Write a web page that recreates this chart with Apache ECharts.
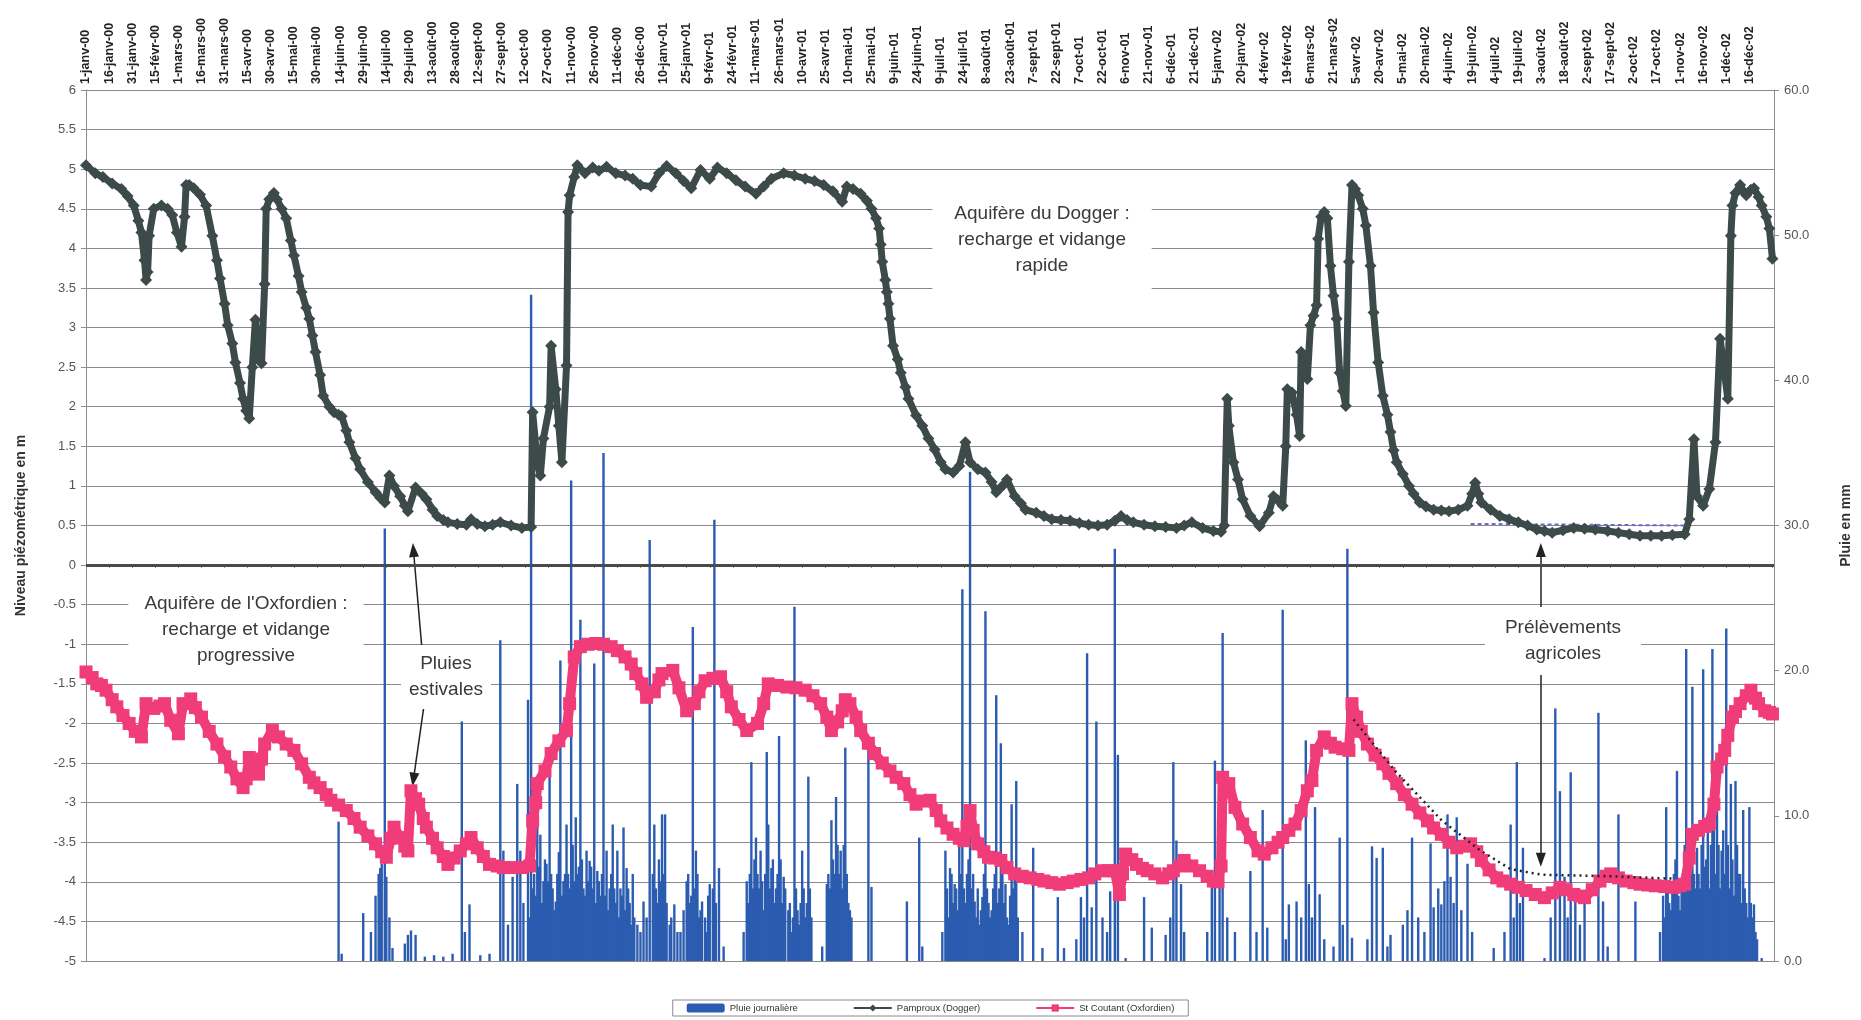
<!DOCTYPE html>
<html>
<head>
<meta charset="utf-8">
<title>Niveaux piézométriques Dogger / Oxfordien</title>
<script src="https://cdn.jsdelivr.net/npm/echarts@6/dist/echarts.min.js"></script>
<style>
  html, body { margin: 0; padding: 0; background: #fff; }
  #chart { width: 1861px; height: 1020px; }
</style>
</head>
<body>
<div id="chart"></div>
<script>
// axe des dates : un repère tous les 15 jours depuis le 1-janv-00 (jour 0)
var tickLabels = [
  '1-janv-00','16-janv-00','31-janv-00','15-févr-00','1-mars-00','16-mars-00','31-mars-00','15-avr-00','30-avr-00',
  '15-mai-00','30-mai-00','14-juin-00','29-juin-00','14-juil-00','29-juil-00','13-août-00','28-août-00','12-sept-00',
  '27-sept-00','12-oct-00','27-oct-00','11-nov-00','26-nov-00','11-déc-00','26-déc-00',
  '10-janv-01','25-janv-01','9-févr-01','24-févr-01','11-mars-01','26-mars-01','10-avr-01','25-avr-01','10-mai-01',
  '25-mai-01','9-juin-01','24-juin-01','9-juil-01','24-juil-01','8-août-01','23-août-01','7-sept-01','22-sept-01',
  '7-oct-01','22-oct-01','6-nov-01','21-nov-01','6-déc-01','21-déc-01',
  '5-janv-02','20-janv-02','4-févr-02','19-févr-02','6-mars-02','21-mars-02','5-avr-02','20-avr-02','5-mai-02',
  '20-mai-02','4-juin-02','19-juin-02','4-juil-02','19-juil-02','3-août-02','18-août-02','2-sept-02','17-sept-02',
  '2-oct-02','17-oct-02','1-nov-02','16-nov-02','1-déc-02','16-déc-02'
];
var nbJours = 1096;

// Pamproux (Dogger) : [jour, niveau en m]
var dogger = [
  [0,5.05],[6,4.95],[11,4.9],[17,4.82],[23,4.75],[27,4.66],[31,4.54],[34,4.35],[36,4.2],[38,3.85],[39,3.6],[40,3.7],
  [41,4.16],[44,4.5],[49,4.54],[53,4.5],[56,4.42],[59,4.2],[62,4.02],[64,4.4],[65,4.8],[67,4.8],[70,4.76],[74,4.68],
  [78,4.54],[82,4.16],[85,3.85],[87,3.62],[90,3.3],[92,3.03],[95,2.8],[97,2.56],[100,2.3],[102,2.1],[104,1.95],
  [106,1.85],[108,2.5],[110,3.1],[112,2.6],[114,2.55],[116,3.55],[117,4.5],[119,4.62],[122,4.7],[124,4.62],[127,4.5],
  [130,4.38],[133,4.1],[135,3.91],[138,3.65],[140,3.45],[143,3.25],[145,3.11],[147,2.9],[149,2.69],[152,2.4],[154,2.14],
  [158,2.0],[161,1.93],[164,1.9],[166,1.88],[169,1.7],[171,1.55],[175,1.35],[178,1.21],[183,1.05],[188,0.92],[191,0.85],
  [194,0.79],[197,1.13],[200,1.0],[204,0.87],[207,0.75],[209,0.68],[214,0.98],[218,0.9],[221,0.83],[225,0.7],[228,0.62],
  [232,0.57],[235,0.54],[241,0.52],[247,0.51],[250,0.58],[254,0.52],[259,0.49],[264,0.51],[269,0.54],[276,0.5],
  [283,0.47],[289,0.48],[290,1.93],[293,1.3],[295,1.13],[297,1.6],[301,2.0],[302,2.77],[305,2.22],[307,1.76],[309,1.3],
  [312,2.52],[313,4.46],[314,4.67],[317,4.9],[319,5.05],[324,4.95],[329,5.02],[333,4.98],[338,5.03],[344,4.95],
  [350,4.92],[355,4.88],[360,4.8],[367,4.78],[372,4.95],[377,5.04],[383,4.95],[388,4.85],[393,4.76],[399,4.99],
  [405,4.88],[410,5.02],[416,4.95],[422,4.86],[428,4.78],[435,4.69],[440,4.78],[445,4.88],[453,4.95],[460,4.92],
  [467,4.88],[473,4.85],[479,4.8],[485,4.72],[491,4.59],[494,4.78],[498,4.75],[503,4.69],[507,4.6],[510,4.5],[513,4.38],
  [515,4.25],[516,4.05],[517,3.83],[519,3.6],[520,3.45],[521,3.3],[522,3.11],[524,2.77],[527,2.6],[529,2.43],[532,2.25],
  [534,2.1],[539,1.89],[543,1.76],[547,1.6],[551,1.46],[555,1.3],[558,1.21],[563,1.17],[567,1.25],[571,1.55],[574,1.3],
  [579,1.21],[584,1.17],[588,1.05],[591,0.92],[595,1.0],[598,1.08],[603,0.87],[607,0.78],[610,0.7],[617,0.66],
  [622,0.62],[627,0.58],[633,0.57],[639,0.56],[645,0.53],[651,0.51],[657,0.5],[663,0.51],[668,0.56],[672,0.62],
  [676,0.57],[680,0.54],[687,0.51],[694,0.49],[701,0.48],[708,0.47],[713,0.5],[718,0.54],[725,0.47],[732,0.43],
  [737,0.42],[739,0.5],[741,2.1],[742,1.76],[745,1.3],[748,1.08],[751,0.83],[756,0.62],[762,0.49],[768,0.66],[771,0.87],
  [774,0.82],[777,0.75],[779,1.5],[780,2.22],[783,2.18],[786,1.9],[788,1.63],[789,2.69],[791,2.5],[793,2.35],[795,3.03],
  [797,3.15],[799,3.28],[800,4.12],[802,4.4],[804,4.46],[806,4.38],[808,3.78],[810,3.4],[812,3.11],[814,2.43],[816,2.2],
  [818,2.01],[820,3.83],[822,4.8],[824,4.75],[826,4.67],[829,4.5],[831,4.29],[834,3.78],[836,3.19],[839,2.56],[842,2.14],
  [845,1.9],[847,1.68],[849,1.45],[851,1.3],[855,1.15],[859,1.0],[862,0.9],[866,0.79],[870,0.74],[875,0.7],[880,0.69],
  [885,0.68],[891,0.7],[897,0.75],[900,0.9],[902,1.04],[904,0.9],[906,0.79],[912,0.7],[918,0.62],[924,0.58],[930,0.54],
  [936,0.5],[942,0.45],[947,0.43],[952,0.41],[959,0.44],[966,0.47],[973,0.46],[980,0.45],[988,0.43],[995,0.41],
  [1002,0.39],[1009,0.37],[1016,0.37],[1023,0.37],[1030,0.38],[1038,0.39],[1041,0.58],[1044,1.59],[1046,0.87],
  [1050,0.75],[1054,0.96],[1058,1.55],[1061,2.86],[1063,2.56],[1066,2.1],[1068,4.16],[1069,4.54],[1071,4.7],[1074,4.8],
  [1076,4.72],[1078,4.67],[1081,4.74],[1083,4.76],[1086,4.65],[1088,4.54],[1091,4.4],[1093,4.25],[1095,3.87]
];

// St Coutant (Oxfordien) : [jour, niveau en m]
var oxfordien = [
  [0,-1.35],[4,-1.42],[7,-1.5],[10,-1.52],[13,-1.58],[17,-1.7],[20,-1.79],[24,-1.9],[28,-2.0],[32,-2.1],[36,-2.17],
  [39,-1.75],[44,-1.81],[48,-1.78],[51,-1.75],[55,-1.96],[60,-2.13],[63,-1.75],[68,-1.69],[71,-1.8],[75,-1.92],
  [80,-2.1],[85,-2.26],[90,-2.42],[94,-2.55],[98,-2.7],[102,-2.81],[104,-2.7],[106,-2.43],[109,-2.55],[112,-2.64],
  [114,-2.45],[116,-2.26],[121,-2.09],[125,-2.17],[130,-2.26],[135,-2.34],[140,-2.51],[145,-2.68],[148,-2.75],
  [152,-2.81],[156,-2.9],[159,-2.97],[164,-3.03],[169,-3.1],[174,-3.2],[178,-3.31],[183,-3.42],[188,-3.52],[192,-3.62],
  [195,-3.69],[198,-3.45],[200,-3.31],[204,-3.44],[207,-3.55],[209,-3.61],[211,-2.85],[214,-2.95],[216,-3.02],
  [219,-3.2],[221,-3.31],[225,-3.45],[228,-3.57],[232,-3.68],[235,-3.78],[239,-3.7],[243,-3.61],[247,-3.52],[250,-3.44],
  [254,-3.57],[258,-3.68],[262,-3.78],[267,-3.8],[271,-3.82],[277,-3.82],[283,-3.82],[288,-3.8],[290,-3.23],[292,-3.0],
  [293,-2.76],[298,-2.6],[302,-2.38],[307,-2.22],[312,-2.09],[314,-1.75],[317,-1.16],[321,-1.03],[326,-1.0],[331,-0.99],
  [336,-1.0],[341,-1.03],[345,-1.08],[350,-1.16],[354,-1.25],[357,-1.37],[361,-1.5],[364,-1.67],[369,-1.6],[372,-1.45],
  [374,-1.37],[381,-1.33],[385,-1.55],[390,-1.84],[395,-1.75],[398,-1.6],[402,-1.46],[407,-1.43],[412,-1.41],
  [416,-1.6],[419,-1.79],[424,-1.95],[429,-2.09],[436,-2.0],[440,-1.75],[443,-1.5],[449,-1.52],[455,-1.54],[461,-1.55],
  [467,-1.58],[472,-1.65],[477,-1.75],[481,-1.92],[484,-2.09],[488,-1.98],[491,-1.84],[493,-1.7],[496,-1.75],
  [500,-1.92],[503,-2.09],[508,-2.25],[512,-2.38],[517,-2.5],[522,-2.6],[526,-2.68],[531,-2.76],[535,-2.9],[539,-3.02],
  [543,-2.98],[548,-2.97],[552,-3.1],[555,-3.23],[559,-3.32],[563,-3.4],[567,-3.45],[570,-3.48],[572,-3.3],[574,-3.1],
  [576,-3.35],[579,-3.52],[583,-3.62],[586,-3.69],[590,-3.7],[594,-3.73],[598,-3.82],[603,-3.9],[608,-3.93],[613,-3.95],
  [618,-3.97],[622,-3.99],[627,-4.01],[632,-4.03],[637,-4.01],[641,-3.99],[646,-3.97],[651,-3.95],[655,-3.9],
  [660,-3.86],[664,-3.86],[668,-3.86],[671,-4.16],[673,-3.9],[675,-3.65],[679,-3.72],[682,-3.78],[686,-3.83],
  [689,-3.86],[694,-3.9],[699,-3.95],[703,-3.9],[706,-3.86],[710,-3.8],[713,-3.73],[718,-3.8],[723,-3.86],[728,-3.93],
  [732,-3.99],[735,-4.0],[737,-3.8],[738,-2.68],[742,-2.76],[746,-3.06],[751,-3.27],[756,-3.44],[761,-3.61],
  [765,-3.65],[770,-3.57],[774,-3.5],[777,-3.44],[781,-3.35],[785,-3.27],[789,-3.1],[793,-2.85],[796,-2.72],
  [799,-2.34],[804,-2.17],[808,-2.25],[811,-2.3],[816,-2.32],[820,-2.34],[822,-1.75],[825,-1.92],[828,-2.1],
  [832,-2.26],[837,-2.4],[842,-2.51],[846,-2.63],[851,-2.76],[856,-2.9],[861,-3.02],[866,-3.13],[871,-3.23],
  [875,-3.32],[880,-3.4],[885,-3.5],[890,-3.57],[895,-3.55],[899,-3.52],[903,-3.62],[906,-3.73],[911,-3.85],
  [916,-3.95],[920,-3.99],[925,-4.03],[930,-4.07],[935,-4.11],[941,-4.16],[947,-4.2],[952,-4.14],[957,-4.07],
  [961,-4.1],[966,-4.16],[970,-4.18],[973,-4.2],[978,-4.1],[983,-3.99],[987,-3.93],[990,-3.9],[995,-3.95],[1000,-3.99],
  [1005,-4.01],[1009,-4.03],[1014,-4.04],[1019,-4.05],[1025,-4.06],[1031,-4.07],[1035,-4.05],[1038,-4.03],[1041,-3.7],
  [1043,-3.4],[1047,-3.35],[1051,-3.3],[1054,-3.27],[1057,-3.02],[1059,-2.55],[1062,-2.45],[1064,-2.34],[1066,-2.15],
  [1069,-1.92],[1071,-1.85],[1074,-1.75],[1078,-1.65],[1081,-1.58],[1084,-1.68],[1086,-1.75],[1090,-1.84],
  [1093,-1.86],[1095,-1.88]
];

// Pluie journalière : [jour, mm]
var pluie = [
  [164,9.6],[166,0.5],[180,3.3],[185,2.0],[188,4.5],[190,6.0],[191,6.4],[192,6.7],[194,29.8],[195,5.8],[197,3.0],
  [199,0.9],[207,1.2],[209,1.8],[211,2.1],[214,1.8],[220,0.3],[226,0.4],[232,0.3],[238,0.5],[244,16.5],[246,2.0],
  [249,3.9],[256,0.4],[262,0.5],[269,22.1],[271,7.6],[274,2.5],[277,5.8],[280,12.2],[282,7.6],[284,4.0],[287,18.0],
  [288,3.0],[289,45.9],[290,5.0],[291,6.0],[292,4.5],[293,11.0],[294,6.5],[295,8.7],[296,4.0],[297,5.5],[298,7.0],
  [299,6.7],[300,5.5],[301,14.5],[302,6.0],[303,5.0],[304,3.5],[305,4.1],[306,6.0],[307,7.5],[308,20.7],[309,4.5],
  [310,5.5],[311,6.0],[312,9.4],[313,6.0],[314,5.0],[315,33.1],[316,8.0],[317,5.5],[318,9.9],[319,6.0],[320,6.5],
  [321,23.5],[322,7.0],[323,5.0],[324,4.5],[325,7.6],[326,5.5],[327,6.9],[328,6.5],[329,5.0],[330,20.5],[331,4.0],
  [332,6.2],[333,5.5],[334,4.5],[335,6.0],[336,35.0],[337,4.5],[338,7.6],[339,3.5],[340,5.0],[341,6.0],[342,9.4],
  [343,5.0],[344,4.0],[345,7.6],[346,3.0],[347,5.0],[348,4.5],[349,9.2],[350,3.5],[351,6.4],[352,5.0],[353,4.0],
  [354,2.5],[355,6.0],[356,3.0],[358,2.5],[360,2.0],[362,4.1],[364,3.0],[366,29.0],[368,6.0],[369,9.4],[370,5.0],
  [371,4.0],[372,7.0],[373,5.5],[374,10.1],[375,6.0],[376,10.1],[377,4.0],[379,2.5],[380,3.0],[382,3.9],[384,2.0],
  [386,2.0],[388,3.5],[390,5.5],[391,6.0],[392,4.0],[393,4.5],[394,23.0],[395,5.0],[396,7.6],[397,6.0],[398,3.0],
  [399,3.5],[400,4.1],[402,3.0],[403,2.0],[404,4.5],[405,5.3],[407,5.0],[408,30.4],[409,4.0],[411,6.4],[414,1.0],
  [427,2.0],[429,5.5],[430,4.0],[431,6.0],[432,13.7],[433,5.0],[434,7.0],[435,8.5],[436,6.0],[437,5.0],[438,7.6],
  [439,5.5],[440,3.5],[441,6.0],[442,14.4],[443,9.4],[444,5.0],[445,6.4],[446,7.0],[447,4.0],[448,5.0],[449,6.0],
  [450,15.5],[451,7.0],[452,4.0],[453,5.8],[454,5.0],[456,3.5],[457,4.0],[458,2.0],[459,3.0],[460,24.4],[461,5.0],
  [462,3.5],[463,2.5],[464,4.0],[465,7.6],[466,5.0],[467,3.0],[468,4.0],[469,12.7],[470,5.0],[471,3.0],[478,1.0],
  [481,5.3],[482,6.0],[483,5.0],[484,9.7],[485,7.0],[486,6.0],[487,11.3],[488,8.0],[489,6.0],[490,7.6],[491,5.0],
  [492,8.0],[493,14.7],[494,6.0],[495,4.0],[496,3.5],[497,3.0],[508,14.5],[510,5.1],[533,4.1],[541,8.5],[543,1.0],
  [556,2.0],[558,7.6],[559,5.0],[560,3.0],[561,6.4],[562,6.0],[563,4.0],[564,5.3],[565,5.0],[566,3.5],[567,8.0],
  [568,6.0],[569,25.6],[570,5.0],[571,4.0],[572,6.0],[573,7.0],[574,33.7],[575,5.0],[576,6.0],[577,4.1],[578,3.0],
  [579,5.0],[580,2.5],[581,3.5],[582,4.4],[583,6.0],[584,24.1],[585,5.0],[586,4.0],[587,3.0],[588,3.5],[589,5.0],
  [590,6.0],[591,18.3],[592,4.0],[593,5.0],[594,15.0],[595,6.0],[596,4.0],[597,5.3],[598,3.0],[599,2.5],[600,4.5],
  [601,10.8],[602,5.0],[603,6.0],[604,12.4],[605,3.0],[608,2.0],[615,7.8],[621,0.9],[631,4.4],[635,0.9],[643,1.5],
  [646,4.4],[648,3.0],[650,21.2],[653,3.7],[656,16.5],[660,3.0],[663,2.0],[665,4.8],[668,28.4],[670,14.2],[675,0.2],
  [687,4.4],[692,2.3],[701,1.8],[704,3.0],[706,13.7],[708,8.3],[711,5.3],[713,2.0],[728,2.0],[731,5.3],[733,13.8],
  [736,7.6],[738,22.6],[741,3.0],[746,2.0],[756,6.2],[760,2.0],[764,10.4],[767,2.3],[777,24.2],[779,1.5],[781,3.9],
  [786,4.1],[789,3.0],[792,15.2],[794,5.3],[796,3.0],[798,10.6],[801,4.6],[804,1.5],[810,1.0],[814,8.5],[816,2.5],
  [819,28.4],[822,1.6],[832,1.5],[835,7.9],[838,7.1],[842,7.8],[845,1.0],[847,1.8],[855,2.5],[858,3.5],[861,8.5],
  [865,3.0],[869,2.0],[873,8.1],[875,3.7],[878,5.0],[880,3.9],[882,5.5],[884,10.1],[886,5.8],[888,4.0],[890,9.9],
  [893,3.5],[897,6.7],[900,2.0],[914,0.9],[921,2.0],[925,9.4],[927,3.0],[929,13.7],[931,4.0],[933,7.8],[947,0.2],
  [951,3.0],[954,17.4],[957,11.7],[960,5.8],[962,3.0],[964,13.0],[967,4.1],[970,2.5],[973,4.1],[982,17.1],[985,4.1],
  [988,1.0],[995,10.1],[1006,4.1],[1022,2.0],[1024,4.5],[1025,3.0],[1026,10.6],[1027,5.0],[1028,4.0],[1029,3.5],
  [1030,5.0],[1031,6.0],[1032,7.0],[1033,13.1],[1034,4.5],[1035,3.5],[1036,5.0],[1037,6.0],[1038,8.0],[1039,21.5],
  [1040,6.0],[1041,5.0],[1042,7.0],[1043,18.9],[1044,6.0],[1045,5.0],[1046,7.8],[1047,6.0],[1048,5.0],[1049,8.0],
  [1050,20.1],[1051,6.5],[1052,7.0],[1053,9.2],[1054,5.0],[1055,8.0],[1056,21.5],[1057,9.0],[1058,6.0],[1059,12.2],
  [1060,8.0],[1061,5.0],[1062,7.6],[1063,9.0],[1064,6.0],[1065,22.9],[1066,8.0],[1067,5.0],[1068,12.2],[1069,7.0],
  [1070,4.5],[1071,12.4],[1072,8.0],[1073,6.0],[1074,6.0],[1075,4.0],[1076,10.4],[1077,5.0],[1078,4.0],[1079,3.0],
  [1080,10.6],[1081,4.0],[1082,3.0],[1083,3.9],[1084,2.0],[1085,1.5],[1088,0.2]
];

// tracés pointillés (évolution sans prélèvements)
var tendanceOxfordien = [[823,-1.95],[850,-2.6],[880,-3.22],[905,-3.6],[925,-3.84],[945,-3.91],[990,-3.93],[1030,-3.96]];
var tendanceDogger = [[899,0.52],[1038,0.5]];

// flèches des annotations : [départ, pointe] en [jour, niveau]
var flechesPluies = [[[218,-1.03],[212.6,0.19]], [[219.7,-1.74],[212.6,-2.71]]];
var flechesPrelev = [[[944.6,-0.57],[944.6,0.19]], [[944.6,-1.28],[944.6,-3.72]]];

var police = '"Liberation Sans", Arial, sans-serif';
var myChart = echarts.init(document.getElementById('chart'));

var fleches = flechesPluies.concat(flechesPrelev).map(function (f) {
  return [{ coord: f[0] }, { coord: f[1] }];
});

function boite(texte, x, y, pad) {
  return {
    type: 'text', x: x, y: y, z: 50,
    style: {
      text: texte, align: 'center', verticalAlign: 'middle',
      font: '19px ' + police, fill: '#3a3a3a', lineHeight: 26,
      backgroundColor: '#fff', padding: pad
    }
  };
}

var option = {
  backgroundColor: '#fff',
  animation: false,
  textStyle: { fontFamily: police },
  grid: { left: 86, right: 76, top: 90, bottom: 59 },
  legend: {
    data: ['Pluie journalière', 'Pamproux (Dogger)', 'St Coutant (Oxfordien)'],
    left: 'center', top: 1000,
    itemWidth: 38, itemHeight: 9, itemGap: 55,
    padding: [3, 14], borderColor: '#8c8c8c', borderWidth: 1,
    textStyle: { fontSize: 9.5, color: '#333' }
  },
  xAxis: {
    type: 'value', position: 'top',
    min: 0, max: nbJours, interval: 15,
    axisLine: { show: true, lineStyle: { color: '#8c8c8c' } },
    axisTick: { show: true, length: 3, inside: true, lineStyle: { color: '#8c8c8c' } },
    splitLine: { show: false },
    axisLabel: {
      rotate: 90, margin: 6, fontSize: 12.5, fontWeight: 'bold', color: '#222',
      showMaxLabel: false,
      formatter: function (v) {
        var i = v / 15;
        return (v % 15 === 0 && i < tickLabels.length) ? tickLabels[i] : '';
      }
    }
  },
  yAxis: [
    {
      type: 'value', min: -5, max: 6, interval: 0.5,
      name: 'Niveau piézométrique en m', nameLocation: 'middle', nameGap: 58, nameRotate: 90,
      nameTextStyle: { fontSize: 14, fontWeight: 'bold', color: '#333' },
      axisLine: { show: true, lineStyle: { color: '#8c8c8c' } },
      axisTick: { show: true, length: 5, lineStyle: { color: '#8c8c8c' } },
      axisLabel: { fontSize: 13, color: '#555', margin: 10 },
      splitLine: { show: true, lineStyle: { color: '#8a8a8a', width: 1 } }
    },
    {
      type: 'value', min: 0, max: 60, interval: 10, position: 'right',
      name: 'Pluie en mm', nameLocation: 'middle', nameGap: 65, nameRotate: 90,
      nameTextStyle: { fontSize: 14, fontWeight: 'bold', color: '#333' },
      axisLine: { show: true, lineStyle: { color: '#8c8c8c' } },
      axisTick: { show: true, length: 5, lineStyle: { color: '#8c8c8c' } },
      axisLabel: { fontSize: 13, color: '#555', margin: 10, formatter: function (v) { return v.toFixed(1); } },
      splitLine: { show: false }
    }
  ],
  series: [
    {
      name: 'Pluie journalière', type: 'bar', yAxisIndex: 1,
      data: pluie, barWidth: 2.4,
      itemStyle: { color: '#2b5cb0' }
    },
    {
      name: 'tendance Dogger', type: 'line', data: tendanceDogger,
      symbol: 'none', z: 3,
      lineStyle: { color: '#6a6ad0', width: 2, type: [4, 3] }
    },
    {
      name: 'Pamproux (Dogger)', type: 'line', data: dogger,
      symbol: 'diamond', symbolSize: 12, showAllSymbol: true, z: 4,
      itemStyle: { color: '#3c4a49' },
      lineStyle: { color: '#3c4a49', width: 7 },
      markLine: {
        silent: true, symbol: ['none', 'triangle'], symbolSize: [10, 14],
        label: { show: false }, emphasis: { disabled: true },
        lineStyle: { color: '#222', width: 1.5, type: 'solid' },
        data: fleches
      }
    },
    {
      name: 'St Coutant (Oxfordien)', type: 'line', data: oxfordien,
      symbol: 'rect', symbolSize: 13, showAllSymbol: true, z: 5,
      itemStyle: { color: '#f03c78' },
      lineStyle: { color: '#f03c78', width: 10 },
      markLine: {
        silent: true, symbol: 'none',
        label: { show: false }, emphasis: { disabled: true },
        lineStyle: { color: '#4a4a4a', width: 3, type: 'solid' },
        data: [{ yAxis: 0 }]
      }
    },
    {
      name: 'tendance Oxfordien', type: 'line', data: tendanceOxfordien,
      symbol: 'none', z: 6,
      lineStyle: { color: '#222', width: 2.5, type: [2, 4] }
    }
  ],
  graphic: [
    boite('Aquifère du Dogger :\nrecharge et vidange\nrapide', 1042, 240, [12, 22]),
    boite("Aquifère de l'Oxfordien :\nrecharge et vidange\nprogressive", 246, 630, [10, 16]),
    boite('Pluies\nestivales', 446, 677, [6, 8]),
    boite('Prélèvements\nagricoles', 1563, 641, [8, 20])
  ]
};

myChart.setOption(option);
</script>
</body>
</html>
